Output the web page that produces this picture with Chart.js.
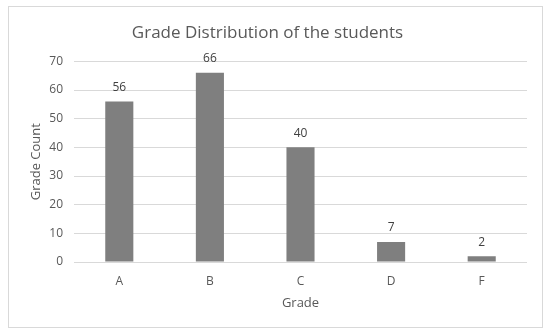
<!DOCTYPE html>
<html>
<head>
<meta charset="utf-8">
<script src="https://cdn.jsdelivr.net/npm/chart.js@4"></script>
<style>
html,body{margin:0;padding:0;background:#fff;}
#wrap{position:absolute;left:0;top:0;width:550px;height:334px;}
</style>
</head>
<body>
<div id="wrap"><canvas id="c" width="550" height="334"></canvas></div>
<script>
const categories = ['A', 'B', 'C', 'D', 'F'];
const gradeCounts = [56, 66, 40, 7, 2];
const yTicks = [0, 10, 20, 30, 40, 50, 60, 70];

const FONT = "'Open Sans', 'Liberation Sans', sans-serif";

const frame = {
  id: 'frame',
  beforeDraw(chart) {
    const ctx = chart.ctx;
    ctx.save();
    ctx.fillStyle = '#ffffff';
    ctx.fillRect(0, 0, chart.width, chart.height);
    ctx.strokeStyle = '#d9d9d9';
    ctx.lineWidth = 1;
    ctx.strokeRect(8.5, 6.5, 534, 321);
    ctx.restore();
  }
};

const valueLabels = {
  id: 'valueLabels',
  afterDatasetsDraw(chart) {
    const ctx = chart.ctx;
    const meta = chart.getDatasetMeta(0);
    ctx.save();
    ctx.font = '12px ' + FONT;
    ctx.fillStyle = '#404040';
    ctx.textAlign = 'center';
    ctx.textBaseline = 'middle';
    meta.data.forEach((bar, i) => {
      ctx.fillText(String(chart.data.datasets[0].data[i]), bar.x, bar.y - 14);
    });
    ctx.restore();
  }
};

new Chart(document.getElementById('c'), {
  type: 'bar',
  data: {
    labels: categories,
    datasets: [{
      data: gradeCounts,
      backgroundColor: '#7f7f7f',
      borderWidth: 0,
      barPercentage: 0.62,
      categoryPercentage: 0.5
    }]
  },
  options: {
    responsive: false,
    animation: false,
    devicePixelRatio: 1,
    layout: { padding: { top: 10, left: 8, right: 23, bottom: 6 } },
    plugins: {
      legend: { display: false },
      tooltip: { enabled: false },
      title: {
        display: true,
        text: 'Grade Distribution of the students',
        color: '#595959',
        font: { family: FONT, size: 17, weight: 'normal' },
        padding: { top: 12.5, bottom: 18.5 }
      }
    },
    scales: {
      x: {
        grid: { display: false },
        border: { display: false },
        ticks: { color: '#595959', font: { family: FONT, size: 12 }, padding: 4 },
        title: {
          display: true, text: 'Grade', color: '#595959',
          font: { family: FONT, size: 13 }, padding: { top: 4, bottom: 17 }
        },
        afterFit(scale) { scale.height = 66; }
      },
      y: {
        min: 0, max: 70,
        afterBuildTicks(scale) { scale.ticks = yTicks.map(v => ({ value: v })); },
        grid: { color: '#d9d9d9', drawTicks: false },
        border: { display: false },
        ticks: { color: '#595959', font: { family: FONT, size: 12 }, padding: 11 },
        title: {
          display: true, text: 'Grade Count', color: '#595959',
          font: { family: FONT, size: 13 }, padding: { top: 20, bottom: 0 }
        },
        afterFit(scale) { scale.width = 66; }
      }
    }
  },
  plugins: [frame, valueLabels]
});
</script>
</body>
</html>
